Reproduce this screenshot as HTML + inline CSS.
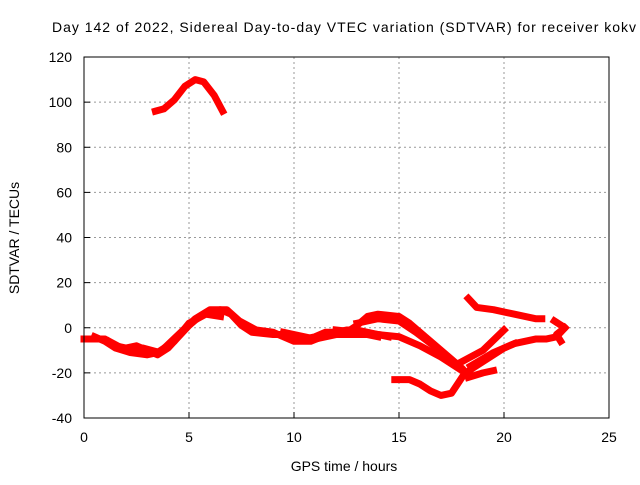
<!DOCTYPE html>
<html><head><meta charset="utf-8"><style>
body{margin:0;background:#fff}
svg{font-family:"Liberation Sans",sans-serif}
</style></head><body>
<svg width="640" height="480" id="c">
<rect width="640" height="480" fill="#fff"/>
<text x="52" y="32" font-size="14" textLength="584" lengthAdjust="spacing">Day 142 of 2022, Sidereal Day-to-day VTEC variation (SDTVAR) for receiver kokv</text>
<text x="344" y="471" font-size="14" text-anchor="middle">GPS time / hours</text>
<text x="19" y="238" font-size="14" text-anchor="middle" transform="rotate(-90 19 238)">SDTVAR / TECUs</text>
<g id="grid"></g><g id="ticks"></g><g id="marks"></g>
<rect x="84" y="57" width="525" height="361" fill="none" stroke="#000"/>
</svg>
<script>
const xTicks=[0,5,10,15,20,25];
const yTicks=[-40,-20,0,20,40,60,80,100,120];
const seriesA=[[3.4,96],[3.8,97],[4.3,101],[4.8,107],[5.3,110],[5.7,109],[6.2,103],[6.6,96]];
const seriesB=[[0,-5],[0.5,-5],[1,-5],[1.5,-8],[2,-9],[2.5,-8],[3,-10],[3.5,-12],[4,-9],[4.5,-4],[5,1],[5.5,5],[6,7],[6.5,8],[7,6],[7.5,1],[8,-2],[9,-3],[9.5,-3],[10,-4],[10.5,-5],[11,-4],[11.5,-2],[12,-2],[12.5,-1],[13,-1],[14,-3],[14.5,-4]];
const seriesB2=[[0.5,-4],[1,-6],[1.5,-9],[2.2,-11],[3,-12],[3.5,-11],[4.3,-6],[5,2],[5.8,6],[6.5,5]];
const seriesB3=[[1.2,-6],[2,-10],[2.8,-9],[3.6,-11],[4.5,-3],[5.3,4],[6,8],[6.8,8],[7.4,3],[8.2,-1],[9,-2],[10,-6],[10.8,-6],[11.6,-3],[12.5,-3],[13.5,-3],[14,-4]];
const seriesC=[[9.5,-2],[10,-3],[11,-5],[12,-3],[12.5,-2],[13,1],[13.5,5],[14,6],[15,5],[15.5,2],[16,-2],[16.5,-6],[17,-10],[17.5,-14],[18,-18],[18.2,-20],[18.5,-18],[19,-15],[19.5,-12],[20,-9],[20.5,-7],[21,-6],[21.5,-5],[22,-5],[22.5,-4],[22.9,0]];
const seriesD=[[12,-1],[13,-2],[14,-3],[15,-4],[16,-8],[17,-13],[18,-19]];
const seriesD2=[[13,2],[14,4],[15,3],[15.8,-2],[16.8,-9],[17.6,-15]];
const seriesE=[[18.3,13],[18.7,9],[19.5,8],[20.5,6],[21.5,4],[21.8,4]];
const seriesF=[[22.4,3],[22.9,0],[22.5,-3],[22.7,-6]];
const seriesG=[[14.8,-23],[15.5,-23],[16,-25],[16.5,-28],[17,-30],[17.5,-29],[18,-22]];
const seriesH=[[18.3,-22],[19,-20],[19.5,-19]];
const seriesI=[[18,-15],[19,-10],[20,-1]];
const seriesI2=[[18.4,-17],[19.5,-11],[20.5,-7]];
const allSeries=[seriesA,seriesB,seriesB2,seriesB3,seriesC,seriesD,seriesD2,seriesE,seriesF,seriesG,seriesH,seriesI,seriesI2];
const X=v=>84+v*21, Y=v=>327.75-v*2.256;
const NS="http://www.w3.org/2000/svg";
function mk(t,a,p){const e=document.createElementNS(NS,t);for(const k in a)e.setAttribute(k,a[k]);p.appendChild(e);return e;}
const grid=document.getElementById('grid'),ticks=document.getElementById('ticks'),marks=document.getElementById('marks');
xTicks.forEach(t=>{
 if(t>0&&t<25){const g=mk('line',{x1:X(t),x2:X(t),y1:57,y2:418,stroke:'#999','stroke-dasharray':'2,3'},grid);
 
 }
 mk('line',{x1:X(t),x2:X(t),y1:418,y2:412,stroke:'#000'},ticks);
 const l=mk('text',{x:X(t),y:442,'font-size':14,'text-anchor':'middle'},ticks);l.textContent=t;
 
 
});
yTicks.forEach(t=>{
 if(t>-40&&t<120){const g=mk('line',{x1:84,x2:609,y1:Y(t),y2:Y(t),stroke:'#999','stroke-dasharray':'2,3'},grid);
 
 }
 mk('line',{x1:84,x2:90,y1:Y(t),y2:Y(t),stroke:'#000'},ticks);
 const l=mk('text',{x:72,y:Y(t)+5,'font-size':14,'text-anchor':'end'},ticks);l.textContent=t;
 
 
});
allSeries.forEach((s,i)=>{
 const p=mk('polyline',{points:s.map(d=>X(d[0])+','+Y(d[1])).join(' '),fill:'none',stroke:'#f00','stroke-width':7,'stroke-linejoin':'round','stroke-linecap':'square'},marks);
 
 
});
</script>
</body></html>
